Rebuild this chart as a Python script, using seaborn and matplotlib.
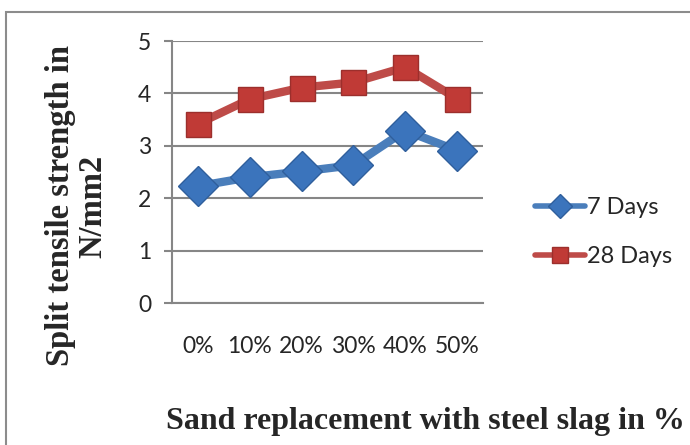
import pandas as pd
import seaborn as sns
import matplotlib
matplotlib.use("Agg")
from matplotlib import pyplot as plt
from matplotlib.patches import Rectangle
from matplotlib.lines import Line2D
import matplotlib.ticker as ticker

replacement = ["0%", "10%", "20%", "30%", "40%", "50%"]
days7 = [2.23, 2.40, 2.51, 2.63, 3.29, 2.91]
days28 = [3.42, 3.89, 4.11, 4.21, 4.50, 3.90]
series = ["7 Days", "28 Days"]

df = pd.DataFrame({
    "Replacement": replacement * 2,
    "Strength": days7 + days28,
    "Age": ["7 Days"] * len(days7) + ["28 Days"] * len(days28),
})

sns.set_theme(style="white")
plt.rcParams["font.family"] = ["Lato", "DejaVu Sans"]

line_clr = {"7 Days": "#4A7EBB", "28 Days": "#BE4B48"}
mark_clr = {"7 Days": "#3B74BC", "28 Days": "#C03A36"}
edge_clr = {"7 Days": "#2F5F9C", "28 Days": "#9C2F2C"}
mark = {"7 Days": "D", "28 Days": "s"}
msize = {"7 Days": 20, "28 Days": 18}

fig = plt.figure(figsize=(6.9, 4.45), dpi=100)
ax = fig.add_axes([172 / 690, 1 - 303 / 445, (483 - 172) / 690, (303 - 41) / 445])

for s in series:
    sub = df[df["Age"] == s]
    sns.lineplot(data=sub, x="Replacement", y="Strength", ax=ax, color=line_clr[s],
                 linewidth=6, marker=mark[s], markersize=msize[s],
                 markerfacecolor=mark_clr[s], markeredgecolor=edge_clr[s],
                 markeredgewidth=1, sort=False, legend=False)

ax.set_xlim(-0.5, 5.5)
ax.set_ylim(0, 5)
ax.yaxis.set_major_locator(ticker.MultipleLocator(1))
ax.grid(True, axis="y", color="#868686", linewidth=1.5)
ax.grid(False, axis="x")
ax.set_axisbelow(True)
for sp in ["top", "right"]:
    ax.spines[sp].set_visible(False)
for sp in ["left", "bottom"]:
    ax.spines[sp].set_color("#868686")
    ax.spines[sp].set_linewidth(1.5)
ax.tick_params(axis="y", length=6, width=1.5, color="#868686", pad=9, labelsize=16.5,
               left=True, direction="out")
ax.tick_params(axis="x", length=0, pad=24, labelsize=16.5)
ax.set_xlabel("")
ax.set_ylabel("")

fig.text(77 / 690, 1 - 206 / 445, "Split tensile strength in\nN/mm2", rotation=90,
         ha="center", va="center", multialignment="center",
         fontsize=23.5, fontweight="bold", family=["Liberation Serif", "DejaVu Serif"],
         linespacing=1.05)
fig.text(425 / 690, 1 - 421 / 445, "Sand replacement with steel slag in %",
         ha="center", va="center", fontsize=23, fontweight="bold",
         family=["Liberation Serif", "DejaVu Serif"])

handles = [Line2D([0], [0], color=line_clr[s], linewidth=4, marker=mark[s],
                  markersize=msize[s] * 0.62, markerfacecolor=mark_clr[s],
                  markeredgecolor=edge_clr[s]) for s in series]
fig.legend(handles, series, loc="center left", bbox_to_anchor=(514 / 690, 1 - 232 / 445),
           frameon=False, fontsize=17, handlelength=2.1, handletextpad=0.1,
           labelspacing=1.2)

fig.patches.append(Rectangle((6 / 690, -0.05), 1.0, 1 - 12 / 445 + 0.05,
                             transform=fig.transFigure, fill=False,
                             edgecolor="#8C8C8C", linewidth=1.5, clip_on=False))

fig.savefig("out.png", dpi=100)
